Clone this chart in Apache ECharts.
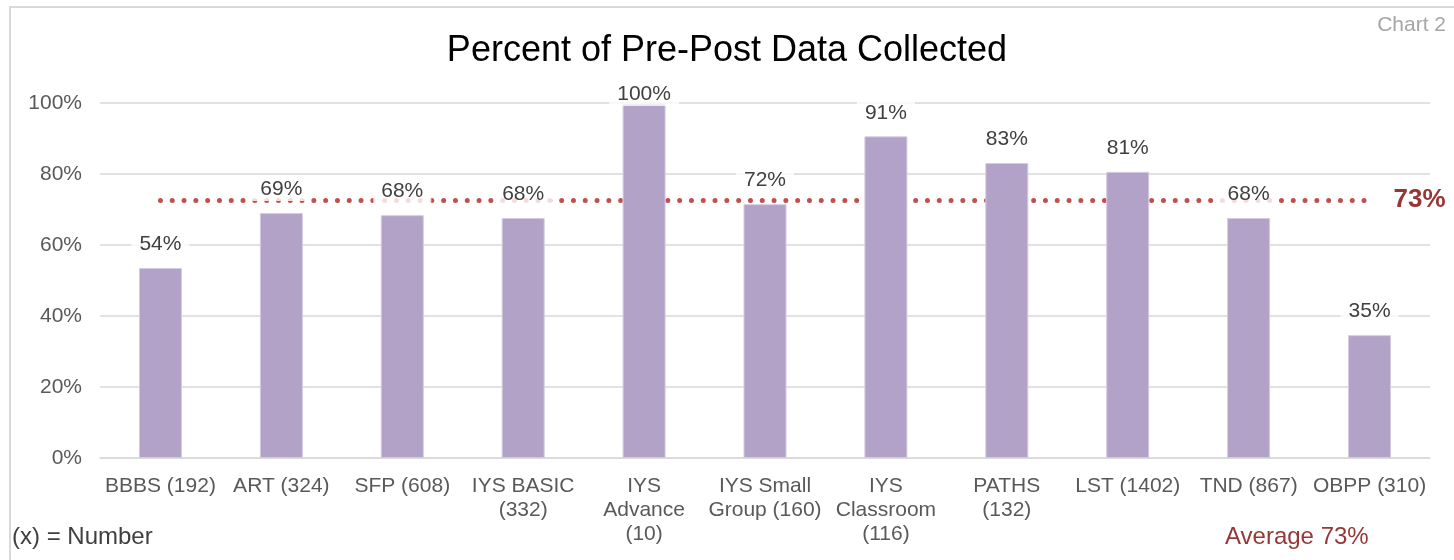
<!DOCTYPE html>
<html>
<head>
<meta charset="utf-8">
<script src="https://cdn.jsdelivr.net/npm/echarts@6/dist/echarts.min.js"></script>
<style>
  html, body { margin: 0; padding: 0; background: #fff; }
  #main { width: 1454px; height: 560px; }
</style>
</head>
<body>
<div id="main"></div>
<script>
// program names with group size, as shown on the axis
var categories = [
  'BBBS (192)', 'ART (324)', 'SFP (608)', 'IYS BASIC\n(332)', 'IYS\nAdvance\n(10)',
  'IYS Small\nGroup (160)', 'IYS\nClassroom\n(116)', 'PATHS\n(132)', 'LST (1402)',
  'TND (867)', 'OBPP (310)'
];
// share of pre-post data collected
var collected = [0.535, 0.69, 0.684, 0.676, 1.0, 0.715, 0.906, 0.831, 0.806, 0.676, 0.346];
var average = 0.727;
var yTicks = [0, 0.2, 0.4, 0.6, 0.8, 1];

var font = '"Liberation Sans", Arial, sans-serif';
var pct = function (v) { return Math.round(v * 100) + '%'; };

// a full bar's label is pushed down against the top of the plot
var barData = collected.map(function (v) {
  return v >= yTicks[yTicks.length - 1] ? { value: v, label: { distance: -3 } } : v;
});

var chart = echarts.init(document.getElementById('main'), null, { renderer: 'canvas' });

var option = {
  backgroundColor: '#fff',
  textStyle: { fontFamily: font },
  title: {
    text: 'Percent of Pre-Post Data Collected',
    left: 'center',
    top: 28,
    textStyle: { fontFamily: font, fontSize: 36, fontWeight: 'normal', color: '#000' }
  },
  grid: { left: 100, right: 24, top: 103, bottom: 102 },
  xAxis: {
    type: 'category',
    data: categories,
    axisLine: { lineStyle: { color: '#d9d9d9', width: 1.5 } },
    axisTick: { show: false },
    axisLabel: {
      interval: 0,
      margin: 16,
      fontSize: 21,
      lineHeight: 24,
      color: '#595959',
      fontFamily: font
    }
  },
  yAxis: {
    type: 'value',
    min: yTicks[0],
    max: yTicks[yTicks.length - 1],
    interval: 0.2,
    axisLine: { show: false },
    axisTick: { show: false },
    splitLine: { lineStyle: { color: '#d9d9d9', width: 1.5 } },
    axisLabel: {
      margin: 18,
      fontSize: 21,
      color: '#595959',
      fontFamily: font,
      formatter: pct
    }
  },
  series: [{
    type: 'bar',
    data: barData,
    barWidth: 43,
    itemStyle: { color: '#b2a2c7', borderColor: '#d4cbe2', borderWidth: 1 },
    label: {
      show: true,
      position: 'top',
      distance: 12,
      fontSize: 21,
      color: '#404040',
      fontFamily: font,
      backgroundColor: 'rgba(255,255,255,0.8)',
      padding: [1, 8],
      formatter: function (p) { return pct(p.value); }
    },
    z: 2,
    markLine: {
      silent: true,
      symbol: 'none',
      z: 1,
      lineStyle: { color: '#c0504d', type: [0, 11.8], width: 5, cap: 'round', opacity: 1 },
      label: {
        show: true,
        position: 'end',
        distance: 24,
        fontSize: 26,
        fontWeight: 'bold',
        color: '#953735',
        fontFamily: font,
        formatter: function () { return pct(average); }
      },
      data: [[
        { coord: [categories[0], average] },
        { coord: [categories[categories.length - 1], average] }
      ]]
    }
  }],
  graphic: [
    {
      type: 'rect',
      shape: { x: 10, y: 7, width: 1480, height: 600 },
      style: { fill: 'none', stroke: '#d9d9d9', lineWidth: 2 },
      silent: true
    },
    {
      type: 'text',
      right: 8,
      top: 15,
      style: { text: 'Chart 2', fill: '#a6a6a6', font: '21px ' + font }
    },
    {
      type: 'text',
      left: 12,
      top: 525,
      style: { text: '(x) = Number', fill: '#404040', font: '24px ' + font }
    },
    {
      type: 'text',
      left: 1225,
      top: 525,
      style: { text: 'Average ' + pct(average), fill: '#953735', font: '24px ' + font }
    }
  ]
};

chart.setOption(option);
</script>
</body>
</html>
